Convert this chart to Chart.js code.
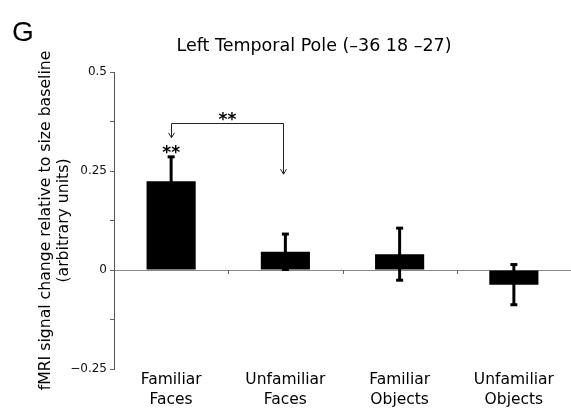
<!DOCTYPE html>
<html>
<head>
<meta charset="utf-8">
<script src="https://cdn.jsdelivr.net/npm/chart.js@4.4.1/dist/chart.umd.min.js"></script>
<style>
  html, body { margin: 0; padding: 0; background: #fff; }
  #wrap { width: 571px; height: 413px; }
</style>
</head>
<body>
<div id="wrap"><canvas id="poleChart" width="571" height="413"></canvas></div>
<script>
/* ---------- data ---------- */
const categories = [
  ["Familiar", "Faces"],
  ["Unfamiliar", "Faces"],
  ["Familiar", "Objects"],
  ["Unfamiliar", "Objects"],
];
const signalChange = [0.224, 0.046, 0.04, -0.037];
const signalError = [0.063, 0.046, 0.067, 0.052];
const yTickLabels = [-0.25, 0, 0.25, 0.5];

// significance marks (values on the y scale)
const starOverBar = { bar: 0, level: 0.305 };
const bracketBars = [0, 1];
const bracketLevel = 0.371;
const bracketEnds = [0.334, 0.242];
const bracketStarLevel = 0.388;

const FONT = "'DejaVu Sans', Verdana, sans-serif";

/* ---------- plugins ---------- */
const errorBars = {
  id: "errorBars",
  afterDatasetsDraw(chart) {
    const { ctx, scales: { y } } = chart;
    const meta = chart.getDatasetMeta(0);
    ctx.save();
    ctx.strokeStyle = "#000";
    ctx.fillStyle = "#000";
    meta.data.forEach((bar, i) => {
      const top = y.getPixelForValue(signalChange[i] + signalError[i]);
      const bot = y.getPixelForValue(signalChange[i] - signalError[i]);
      ctx.lineWidth = 3;
      ctx.beginPath();
      ctx.moveTo(bar.x, top);
      ctx.lineTo(bar.x, bot);
      ctx.stroke();
      ctx.fillRect(bar.x - 3.5, top - 1, 7, 3);
      ctx.fillRect(bar.x - 3.5, bot - 2, 7, 3);
    });
    ctx.restore();
  },
};

const axisExtras = {
  id: "axisExtras",
  afterDatasetsDraw(chart) {
    const { ctx, scales: { x, y } } = chart;
    const y0 = y.getPixelForValue(0);
    ctx.save();
    // small category ticks hanging below the zero line
    ctx.strokeStyle = "#666";
    ctx.lineWidth = 1;
    for (let i = 0; i < categories.length - 1; i++) {
      const bx = Math.round((x.getPixelForValue(i) + x.getPixelForValue(i + 1)) / 2) + 0.5;
      ctx.beginPath();
      ctx.moveTo(bx, y0);
      ctx.lineTo(bx, y0 + 4);
      ctx.stroke();
    }
    ctx.restore();
  },
};

function arrowDown(ctx, px, py) {
  ctx.beginPath();
  ctx.moveTo(px - 3, py - 5);
  ctx.lineTo(px, py);
  ctx.lineTo(px + 3, py - 5);
  ctx.stroke();
}

const significance = {
  id: "significance",
  afterDraw(chart) {
    const { ctx, scales: { x, y } } = chart;
    ctx.save();
    ctx.fillStyle = "#000";
    ctx.textAlign = "center";
    ctx.textBaseline = "middle";
    ctx.font = "bold 17px " + FONT;
    ctx.fillText("**", x.getPixelForValue(starOverBar.bar), y.getPixelForValue(starOverBar.level) + 4);

    const xa = Math.round(x.getPixelForValue(bracketBars[0])) + 0.5;
    const xb = Math.round(x.getPixelForValue(bracketBars[1])) - 1.5;
    const yl = Math.round(y.getPixelForValue(bracketLevel)) + 0.5;
    const ya = y.getPixelForValue(bracketEnds[0]);
    const yb = y.getPixelForValue(bracketEnds[1]);
    ctx.strokeStyle = "#222";
    ctx.lineWidth = 1;
    ctx.beginPath();
    ctx.moveTo(xa, ya);
    ctx.lineTo(xa, yl);
    ctx.lineTo(xb, yl);
    ctx.lineTo(xb, yb);
    ctx.stroke();
    arrowDown(ctx, xa, ya);
    arrowDown(ctx, xb, yb);
    ctx.fillText("**", (xa + xb) / 2, y.getPixelForValue(bracketStarLevel) + 4);

    // panel letter and heading
    ctx.textBaseline = "alphabetic";
    ctx.textAlign = "left";
    ctx.font = "28px 'Liberation Sans', Arial, sans-serif";
    ctx.fillText("G", 12, 41);
    ctx.textAlign = "center";
    ctx.font = "17.5px " + FONT;
    ctx.fillText("Left Temporal Pole (\u201336 18 \u201327)", 314, 51);
    ctx.restore();
  },
};

/* ---------- chart ---------- */
new Chart(document.getElementById("poleChart"), {
  type: "bar",
  data: {
    labels: categories,
    datasets: [
      {
        data: signalChange,
        backgroundColor: "#000",
        borderWidth: 0,
        categoryPercentage: 1,
        barPercentage: 0.43,
      },
    ],
  },
  options: {
    responsive: false,
    animation: false,
    layout: { padding: { top: 72, right: 0, bottom: 0, left: 0 } },
    plugins: { legend: { display: false }, tooltip: { enabled: false } },
    scales: {
      x: {
        grid: { display: false, drawTicks: false },
        border: { display: false },
        ticks: {
          color: "#000",
          padding: 1,
          maxRotation: 0,
          autoSkip: false,
          font: { family: FONT, size: 15.5, lineHeight: "20px" },
        },
        afterFit(scale) { scale.height = 44; },
      },
      y: {
        min: -0.25,
        max: 0.5,
        border: { color: "#555", width: 1 },
        grid: {
          drawOnChartArea: true,
          color: (c) => (c.tick && c.tick.value === 0 ? "#888" : "rgba(0,0,0,0)"),
          tickColor: "#666",
          tickLength: 4,
        },
        ticks: {
          stepSize: 0.125,
          padding: 3,
          color: "#111",
          font: { family: FONT, size: 12 },
          callback: (v) => {
            const hit = yTickLabels.find((t) => Math.abs(t - v) < 1e-9);
            if (hit === undefined) return "";
            return hit < 0 ? "\u2212" + String(-hit) : String(hit);
          },
        },
        title: {
          display: true,
          text: ["fMRI signal change relative to size baseline", "(arbitrary units)"],
          color: "#000",
          padding: { top: 37, bottom: 0 },
          font: { family: FONT, size: 15.7, lineHeight: "18px" },
        },
        afterFit(scale) { scale.width = 114; },
      },
    },
  },
  plugins: [errorBars, axisExtras, significance],
});
</script>
</body>
</html>
